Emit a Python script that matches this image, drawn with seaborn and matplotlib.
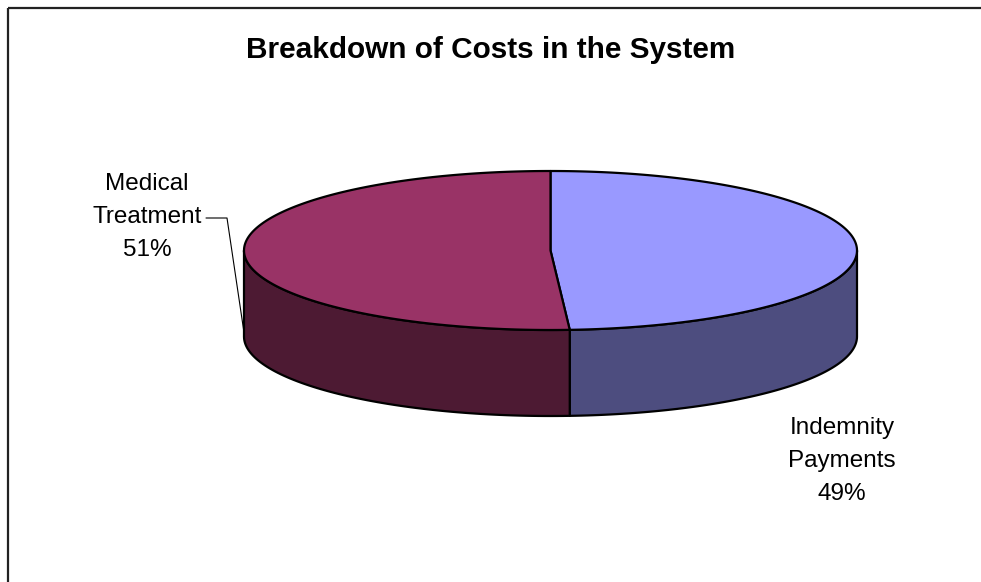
import numpy as np
import matplotlib
matplotlib.use("Agg")
import matplotlib.pyplot as plt
import seaborn as sns
from matplotlib.patches import Polygon, Rectangle

# ---- data ----
categories = ["Indemnity\nPayments", "Medical\nTreatment"]
shares = [49, 51]
top_colors = ["#9999FF", "#993366"]
side_colors = ["#4D4D7F", "#4D1A33"]
title = "Breakdown of Costs in the System"

sns.set_theme(style="white")
plt.rcParams["font.family"] = ["Liberation Sans", "DejaVu Sans"]

fig = plt.figure(figsize=(9.81, 5.82), dpi=100)
ax = fig.add_axes([0, 0, 1, 1])
ax.set_xlim(0, 981)
ax.set_ylim(582, 0)
ax.axis("off")

# chart frame
ax.add_patch(Rectangle((7.5, 7.5), 1000, 1000, fill=False, ec="#222222", lw=1.6))

ax.text(491, 50, title, ha="center", va="center", fontsize=21.4, fontweight="bold",
        color="black")

# pie geometry (layout)
cx, cy, a, b, depth = 550.5, 250.5, 306.5, 79.5, 86


def pt(theta_deg, dy=0.0):
    t = np.radians(theta_deg)
    return cx + a * np.cos(t), cy - b * np.sin(t) + dy


total = float(sum(shares))
ranges = []
start = 90.0
for v in shares:
    sweep = 360.0 * v / total
    end = start - sweep
    ranges.append((end, start))  # ccw from end to start
    start = end

# sides (front half only)
for (s, e), col in zip(ranges, side_colors):
    for lo_v, hi_v in [(-180, 0), (180, 360)]:
        lo, hi = max(s, lo_v), min(e, hi_v)
        if hi <= lo:
            continue
        th = np.linspace(lo, hi, 80)
        top = [pt(t) for t in th]
        bot = [pt(t, depth) for t in th[::-1]]
        ax.add_patch(Polygon(top + bot, closed=True, fc=col, ec="black", lw=1.6,
                             joinstyle="round", zorder=2))

# top faces
for (s, e), col in zip(ranges, top_colors):
    th = np.linspace(s, e, 200)
    verts = [(cx, cy)] + [pt(t) for t in th]
    ax.add_patch(Polygon(verts, closed=True, fc=col, ec="black", lw=1.6,
                         joinstyle="round", zorder=3))

# labels
pcts = [f"{round(100 * v / total):d}%" for v in shares]
ax.text(842, 461, f"{categories[0]}\n{pcts[0]}", ha="center", va="center",
        fontsize=17.5, linespacing=1.66, color="black")
ax.text(147, 217, f"{categories[1]}\n{pcts[1]}", ha="center", va="center",
        fontsize=17.5, linespacing=1.62, color="black")

# leader line for medical label
lx, ly = pt(180, 82)
ax.plot([206, 227, lx], [218, 218, ly], color="black", lw=0.8, zorder=4)

fig.savefig("out.png", dpi=100, facecolor="white")
